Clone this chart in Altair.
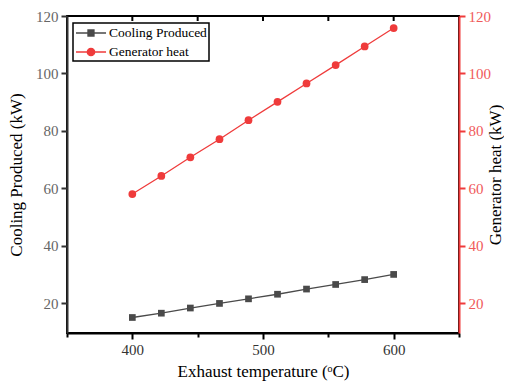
import altair as alt
import pandas as pd

temps = [400, 422.2, 444.4, 466.7, 488.9, 511.1, 533.3, 555.6, 577.8, 600]
cooling = [15.0, 16.5, 18.3, 19.9, 21.5, 23.1, 24.9, 26.5, 28.2, 30.0]
generator = [58.0, 64.3, 70.8, 77.1, 83.7, 90.1, 96.5, 102.9, 109.4, 115.8]
series_names = ["Cooling Produced", "Generator heat"]
series_colors = ["#4a4a4a", "#ef3b3b"]
top_ticks = [400, 450, 500, 550, 600]

FONT = "Liberation Serif"

cool_df = pd.DataFrame({"temp": temps, "value": cooling, "series": series_names[0]})
gen_df = pd.DataFrame({"temp": temps, "value": generator, "series": series_names[1]})
tick_df = pd.DataFrame({"temp": top_ticks})

xscale = alt.Scale(domain=[350, 650], nice=False, zero=False)
ydomain = [9.6, 120]

x_axis = alt.Axis(
    values=[350, 400, 450, 500, 550, 600, 650],
    labelExpr="datum.value % 100 == 0 ? datum.label : ''",
    title="Exhaust temperature (ᵒC)",
    grid=False,
    domainColor="#000000", domainWidth=2,
    tickColor="#000000", tickWidth=2,
    tickSize={"condition": {"test": "datum.value % 100 == 0", "value": 6}, "value": 4},
    labelFont=FONT, labelFontSize=15, labelColor="#333333", labelPadding=3,
    titleFont=FONT, titleFontSize=17, titleFontWeight="normal", titleColor="#000000",
    titlePadding=6,
)

left_axis = alt.Axis(
    values=[20, 30, 40, 50, 60, 70, 80, 90, 100, 110, 120],
    labelExpr="datum.value % 20 == 0 ? datum.label : ''",
    title="Cooling Produced (kW)",
    grid=False,
    domainColor="#333333", domainWidth=2,
    tickColor="#333333", tickWidth=2,
    tickSize={"condition": {"test": "datum.value % 20 == 0", "value": 6}, "value": 4},
    labelFont=FONT, labelFontSize=15, labelColor="#666666", labelPadding=3,
    titleFont=FONT, titleFontSize=17, titleFontWeight="normal", titleColor="#000000",
    titlePadding=10,
)

right_axis = alt.Axis(
    orient="right",
    values=[20, 30, 40, 50, 60, 70, 80, 90, 100, 110, 120],
    labelExpr="datum.value % 20 == 0 ? datum.label : ''",
    title="Generator heat (kW)",
    titleAngle=270,
    grid=False,
    domainColor="#ef3b3b", domainWidth=2,
    tickColor="#ef3b3b", tickWidth=2,
    tickSize={"condition": {"test": "datum.value % 20 == 0", "value": 6}, "value": 4},
    labelFont=FONT, labelFontSize=15, labelColor="#f05a5a", labelPadding=3,
    titleFont=FONT, titleFontSize=17, titleFontWeight="normal", titleColor="#000000",
    titlePadding=14,
)

color_scale = alt.Scale(domain=series_names, range=series_colors)
shape_scale = alt.Scale(
    domain=series_names,
    range=[
        "M-1,0L0.65,0M1.65,0L3.29,0M0.71,-0.43L1.57,-0.43L1.57,0.43L0.71,0.43Z",
        "M-1,0L0.6,0M1.7,0L3.29,0M1.67,0A0.53,0.53 0 1,1 0.61,0A0.53,0.53 0 1,1 1.67,0Z",
    ],
)
leg = alt.Legend(
    title=None,
    orient="none",
    legendX=6,
    legendY=7,
    strokeColor="#000000",
    fillColor="#ffffff",
    padding=2,
    symbolSize=196,
    symbolStrokeWidth=1.3,
    labelFont=FONT,
    labelFontSize=13.5,
    labelColor="#000000",
    labelOffset=18,
    rowPadding=4,
)

# Cooling layer (left axis)
cool_line = alt.Chart(cool_df).mark_line(color=series_colors[0], strokeWidth=1.3).encode(
    x=alt.X("temp:Q", scale=xscale, axis=x_axis),
    y=alt.Y("value:Q", scale=alt.Scale(domain=ydomain, nice=False, zero=False), axis=left_axis),
)
cool_pts = alt.Chart(cool_df).mark_point(
    shape="square", filled=True, size=45, opacity=1, color=series_colors[0]
).encode(x=alt.X("temp:Q", scale=xscale), y="value:Q")
legend_layer = alt.Chart(cool_df).transform_filter("datum.temp < 0").mark_point(
    filled=True, opacity=1
).encode(
    x=alt.X("temp:Q", scale=xscale),
    y="value:Q",
    fill=alt.Fill("series:N", scale=color_scale, legend=leg),
    stroke=alt.Stroke("series:N", scale=color_scale, legend=leg),
    shape=alt.Shape("series:N", scale=shape_scale, legend=leg),
)
top_tick_layer = alt.Chart(tick_df).mark_rule(color="#000000", strokeWidth=2).encode(
    x=alt.X("temp:Q", scale=xscale),
    y=alt.value(0),
    y2=alt.value(5),
)
cool_group = alt.layer(cool_line, cool_pts, legend_layer, top_tick_layer)

# Generator layer (right axis)
gen_line = alt.Chart(gen_df).mark_line(color=series_colors[1], strokeWidth=1.3).encode(
    x=alt.X("temp:Q", scale=xscale),
    y=alt.Y("value:Q", scale=alt.Scale(domain=ydomain, nice=False, zero=False), axis=right_axis),
)
gen_pts = alt.Chart(gen_df).mark_point(
    shape="circle", filled=True, size=60, opacity=1, color=series_colors[1]
).encode(x=alt.X("temp:Q", scale=xscale), y="value:Q")
gen_group = alt.layer(gen_line, gen_pts)

chart = (
    alt.layer(cool_group, gen_group)
    .resolve_scale(y="independent")
    .properties(
        width=392,
        height=317,
        autosize=alt.AutoSizeParams(type="none"),
        padding={"left": 59, "top": 8, "right": 45, "bottom": 51},
    )
    .configure(background="#ffffff", font=FONT)
    .configure_view(stroke="#000000", strokeWidth=2)
    .configure_axis(labelFont=FONT, titleFont=FONT)
    .configure_legend(strokeWidth=1.5, labelFont=FONT)
)

chart.save("out.html", embed_options={"renderer": "svg", "actions": False})
